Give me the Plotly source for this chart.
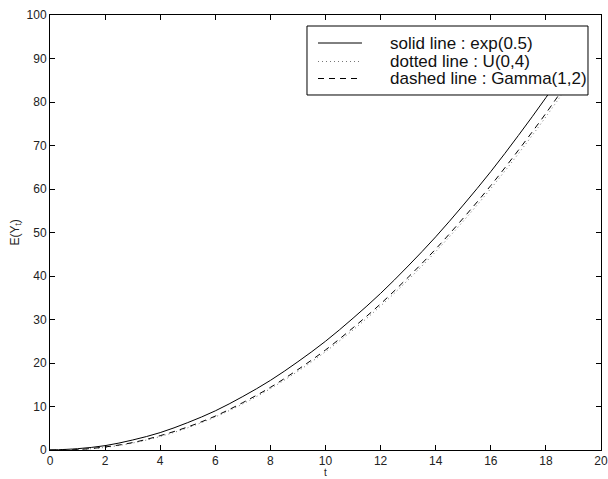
import plotly.graph_objects as go

t = list(range(0, 20))
solid_exp = [0, 0.3, 1.0, 2.3, 4.0, 6.3, 9.0, 12.3, 16.0, 20.3, 25.0, 30.3, 36.0, 42.3, 49.0, 56.3, 64.0, 72.3, 81.0, 90.3]
dotted_unif = [0, 0.1, 0.6, 1.6, 3.1, 5.1, 7.6, 10.6, 14.1, 18.1, 22.6, 27.6, 33.1, 39.1, 45.6, 52.6, 60.1, 68.1, 76.6, 85.6]
dashed_gamma = [0, 0.1, 0.7, 1.7, 3.3, 5.3, 7.8, 10.9, 14.4, 18.5, 23.0, 28.1, 33.6, 39.7, 46.2, 53.3, 60.8, 68.9, 77.4, 86.5]

series_names = ["solid line : exp(0.5)", "dotted line : U(0,4)", "dashed line : Gamma(1,2)"]
x_ticks = list(range(0, 21, 2))
y_ticks = list(range(0, 101, 10))

FONT = "Liberation Sans, Arial, Helvetica, sans-serif"
styles = [
    dict(color="black", width=1, dash="solid"),
    dict(color="#777777", width=1, dash="1px,3px"),
    dict(color="black", width=1, dash="6px,5px"),
]

fig = go.Figure()
for vals, name, st in zip([solid_exp, dotted_unif, dashed_gamma], series_names, styles):
    fig.add_trace(go.Scatter(x=t, y=vals, mode="lines", name=name,
                             line=dict(shape="spline", **st), showlegend=False))

axis_common = dict(showline=True, linecolor="black", linewidth=1, mirror="ticks",
                   ticks="inside", ticklen=5, tickcolor="black", showgrid=False, zeroline=False,
                   automargin=False,
                   tickfont=dict(family=FONT, size=12, color="#222"))

# manual legend box (MATLAB style)
box_x0, box_x1, box_y0, box_y1 = 0.4664, 0.9764, 0.8161, 0.9747
row_y = [0.9356, 0.8931, 0.8540]
shapes = [dict(type="rect", xref="paper", yref="paper", x0=box_x0, x1=box_x1, y0=box_y0, y1=box_y1,
               line=dict(color="black", width=1), fillcolor="white", layer="above")]
annotations = []
for ry, name, st in zip(row_y, series_names, styles):
    shapes.append(dict(type="line", xref="paper", yref="paper", x0=0.4864, x1=0.5662, y0=ry, y1=ry,
                       line=st, layer="above"))
    annotations.append(dict(xref="paper", yref="paper", x=0.6134, y=ry, xanchor="left", yanchor="middle",
                            text=name, showarrow=False, font=dict(family=FONT, size=17, color="#111")))

annotations.append(dict(xref="paper", yref="paper", x=0.5, y=-0.0506, xanchor="center", yanchor="middle",
                        text="t", showarrow=False, font=dict(family=FONT, size=10, color="#222")))
annotations.append(dict(xref="paper", yref="paper", x=-0.0635, y=0.5, xanchor="center", yanchor="middle",
                        text="E(Y<sub>t</sub>)", textangle=-90, showarrow=False,
                        font=dict(family=FONT, size=12, color="#222")))

fig.update_layout(
    width=608, height=479,
    margin=dict(l=50, r=7, t=15, b=29),
    plot_bgcolor="white", paper_bgcolor="white",
    xaxis=dict(range=[0, 20], tickvals=x_ticks, **axis_common),
    yaxis=dict(range=[0, 100], tickvals=y_ticks, **axis_common),
    shapes=shapes,
    annotations=annotations,
    showlegend=False,
)

fig.write_html("out.html", config={"displayModeBar": False},
               post_script="document.body.style.margin='0px';document.body.style.overflow='hidden';")
